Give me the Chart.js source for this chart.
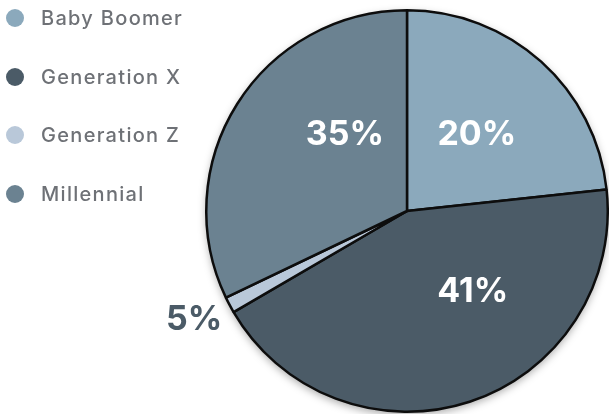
<!DOCTYPE html>
<html><head><meta charset="utf-8">
<script src="https://cdn.jsdelivr.net/npm/chart.js@4.4.1/dist/chart.umd.min.js"></script>
<style>
html,body{margin:0;padding:0;background:#fff;}
#wrap{position:relative;width:609px;height:414px;overflow:hidden;}
#c{position:absolute;left:0;top:0;}
.item{position:absolute;left:0;height:20px;width:220px;font-family:"Inter","Lato",sans-serif;font-size:20px;font-weight:500;color:#6e7176;letter-spacing:1.3px;}
.dot{position:absolute;left:6px;top:1px;width:18px;height:18px;border-radius:50%;}
.txt{position:absolute;left:41px;top:0;line-height:20px;}
</style></head>
<body><div id="wrap"><canvas id="c" width="609" height="414"></canvas><div id="legend"></div></div>
<script>
const categories = ["Baby Boomer", "Generation X", "Generation Z", "Millennial"];
const shares = [23.3, 43.3, 1.3, 32.1];
const shareLabels = ["20%", "41%", "5%", "35%"];
const colors = ["#8ba9bc", "#4b5b67", "#b9c8d9", "#6b8291"];
const labelColors = ["#ffffff", "#ffffff", "#4b5b67", "#ffffff"];
// label anchor: angle (deg clockwise from top), distance as fraction of radius
const labelAnchors = [[42.5, 0.515], [140.8, 0.518], [243, 1.19], [320.8, 0.49]];

const legend = document.getElementById('legend');
const rowY = [8, 66.5, 125, 183.5];
categories.forEach((c, i) => {
  const d = document.createElement('div');
  d.className = 'item';
  d.style.top = rowY[i] + 'px';
  d.innerHTML = '<span class="dot" style="background:' + colors[i] + '"></span><span class="txt">' + c + '</span>';
  legend.appendChild(d);
});

const shadowPlugin = {
  id: 'pieShadow',
  beforeDatasetsDraw(chart) {
    const arc = chart.getDatasetMeta(0).data[0];
    if (!arc) return;
    const ctx = chart.ctx;
    ctx.save();
    ctx.shadowColor = 'rgba(0,0,0,0.35)';
    ctx.shadowBlur = 8;
    ctx.shadowOffsetY = 3;
    ctx.fillStyle = '#fff';
    ctx.beginPath();
    ctx.arc(arc.x, arc.y, arc.outerRadius, 0, Math.PI * 2);
    ctx.fill();
    ctx.restore();
  }
};

const labelPlugin = {
  id: 'sliceLabels',
  afterDatasetsDraw(chart) {
    const meta = chart.getDatasetMeta(0);
    const ctx = chart.ctx;
    ctx.save();
    ctx.font = 'bold 34px Inter, Lato, sans-serif';
    ctx.textAlign = 'center';
    ctx.textBaseline = 'middle';
    meta.data.forEach((arc, i) => {
      const a = labelAnchors[i][0] * Math.PI / 180;
      const r = labelAnchors[i][1] * arc.outerRadius;
      const x = arc.x + Math.sin(a) * r;
      const y = arc.y - Math.cos(a) * r;
      ctx.fillStyle = labelColors[i];
      ctx.fillText(shareLabels[i], x, y);
    });
    ctx.restore();
  }
};

new Chart(document.getElementById('c'), {
  type: 'pie',
  data: {
    labels: categories,
    datasets: [{
      data: shares,
      backgroundColor: colors,
      borderColor: '#0d0d0d',
      borderWidth: 2.5,
      hoverOffset: 0
    }]
  },
  options: {
    responsive: false,
    animation: false,
    devicePixelRatio: 1,
    layout: { padding: { left: 205, right: 0, top: 9, bottom: 1 } },
    plugins: { legend: { display: false }, tooltip: { enabled: false } }
  },
  plugins: [shadowPlugin, labelPlugin]
});
</script></body></html>
